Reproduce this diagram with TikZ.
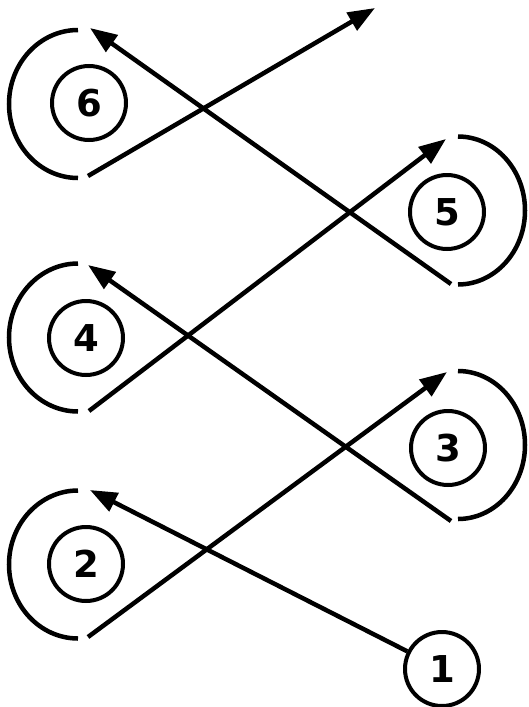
\documentclass[tikz,border=0pt]{standalone}
\usepackage{fontspec}
\setmainfont{DejaVu Sans}
\usetikzlibrary{arrows.meta}
\begin{document}
\begin{tikzpicture}[x=1pt,y=-1pt,
  num/.style={circle, draw, line width=4pt, minimum size=74pt, inner sep=0pt,
    font=\fontsize{37}{37}\selectfont\bfseries},
  loopline/.style={line width=4.5pt},
  conn/.style={line width=4.5pt, -{Triangle[length=27pt,width=20pt]}}]
\useasboundingbox (0,0) rectangle (529,707);
% loops (left)
\draw[loopline] (78,30) arc[start angle=270, end angle=90, x radius=69, y radius=74];
\draw[loopline] (78,263.5) arc[start angle=270, end angle=90, x radius=69, y radius=74];
\draw[loopline] (78,490.5) arc[start angle=270, end angle=90, x radius=69, y radius=74];
% loops (right)
\draw[loopline] (458,136.5) arc[start angle=-90, end angle=90, x radius=67, y radius=74];
\draw[loopline] (458,371) arc[start angle=-90, end angle=90, x radius=67, y radius=74];
% numbered circles
\node[num] (c6) at (89,103) {6};
\node[num] (c5) at (447,212) {5};
\node[num] (c4) at (86,338) {4};
\node[num] (c3) at (448,448) {3};
\node[num] (c2) at (86,564) {2};
\node[num] (c1) at (442,669) {1};
% connector ends
\coordinate (top) at (375,8);
\coordinate (t6) at (90,28);
\coordinate (b6) at (88,176);
\coordinate (t5) at (446,139);
\coordinate (b5) at (451,284);
\coordinate (t4) at (88,265);
\coordinate (b4) at (89,411);
\coordinate (t3) at (447,372);
\coordinate (b3) at (451,521);
\coordinate (t2) at (90,490);
\coordinate (b2) at (88,637);
% connectors
\draw[conn] (b6) -- (top);
\draw[conn] (b5) -- (t6);
\draw[conn] (b4) -- (t5);
\draw[conn] (b3) -- (t4);
\draw[conn] (b2) -- (t3);
\draw[conn] (c1) -- (t2);
\end{tikzpicture}
\end{document}
